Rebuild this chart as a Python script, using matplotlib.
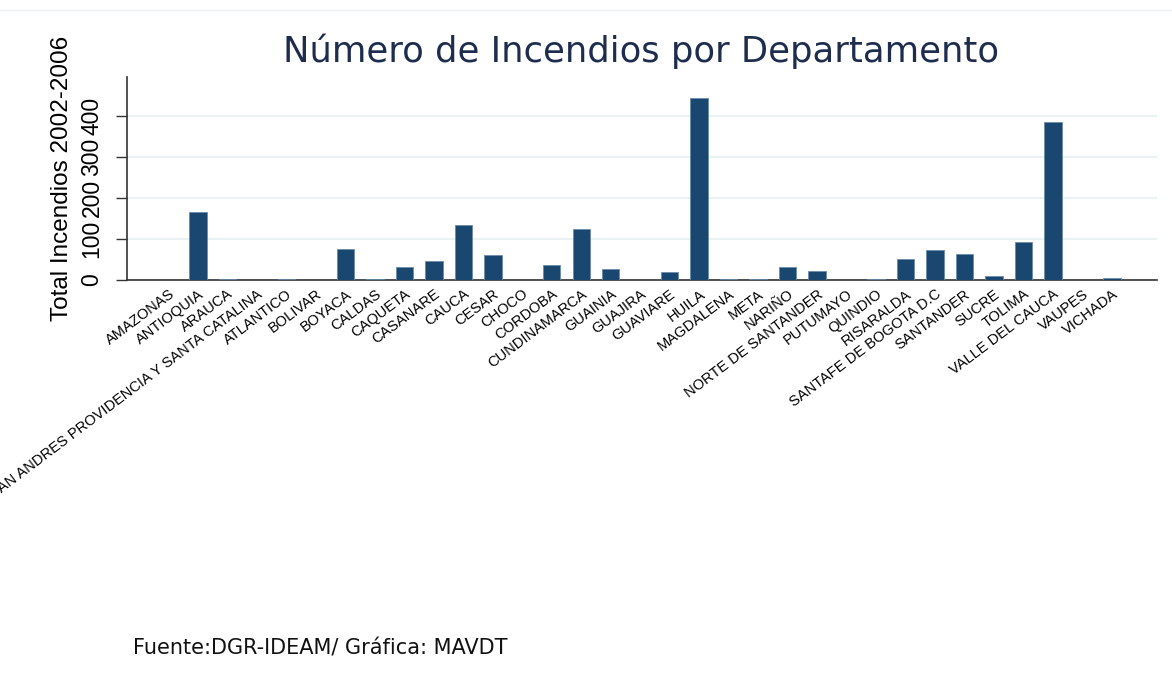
import matplotlib
matplotlib.use("Agg")
import matplotlib.pyplot as plt
import numpy as np

plt.rcParams['font.family'] = ['Liberation Sans', 'DejaVu Sans']

departamentos = ["AMAZONAS", "ANTIOQUIA", "ARAUCA", "SAN ANDRES PROVIDENCIA Y SANTA CATALINA",
                 "ATLANTICO", "BOLIVAR", "BOYACA", "CALDAS", "CAQUETA", "CASANARE", "CAUCA",
                 "CESAR", "CHOCO", "CORDOBA", "CUNDINAMARCA", "GUAINIA", "GUAJIRA", "GUAVIARE",
                 "HUILA", "MAGDALENA", "META", "NARIÑO", "NORTE DE SANTANDER", "PUTUMAYO",
                 "QUINDIO", "RISARALDA", "SANTAFE DE BOGOTA D.C", "SANTANDER", "SUCRE", "TOLIMA",
                 "VALLE DEL CAUCA", "VAUPES", "VICHADA"]
incendios = [0, 166, 3, 0, 3, 0, 76, 3, 32, 47, 135, 60, 0, 37, 124, 28, 0, 19,
             442, 3, 3, 31, 21, 0, 3, 50, 72, 63, 10, 93, 385, 0, 5]
yticks = [0, 100, 200, 300, 400]

fig = plt.figure(figsize=(11.72, 6.82), dpi=100)
ax = fig.add_axes([127/1172, 1 - 280/682, (1157 - 127)/1172, (280 - 76.7)/682])

x = np.arange(len(departamentos))
ax.bar(x, incendios, width=0.59, color='#1a476f', edgecolor='#6a8cab', linewidth=0.6, zorder=3)

ax.set_xlim(-1.41, len(departamentos) - 1 + 1.53)
ax.set_ylim(0, 495)
ax.set_yticks(yticks)
ax.set_yticklabels([str(v) for v in yticks], rotation=90, va='center', fontsize=16.5)
ax.yaxis.grid(True, color='#eaf2f3', linewidth=1.5, zorder=0)
ax.set_axisbelow(True)
ax.tick_params(axis='y', length=8, width=1, color='#333333', pad=9)
ax.tick_params(axis='x', length=0, pad=5)
ax.set_xticks(x)
ax.set_xticklabels(departamentos, rotation=37, ha='right', va='top', fontsize=10.5,
                   rotation_mode='anchor')

for s in ['top', 'right']:
    ax.spines[s].set_visible(False)
ax.spines['left'].set_color('#333333')
ax.spines['bottom'].set_color('#333333')
ax.spines['left'].set_linewidth(1.2)
ax.spines['bottom'].set_linewidth(1.2)

ax.set_ylabel("Total Incendios 2002-2006", fontsize=17.5, labelpad=5)

fig.text(641/1172, 1 - 51/682, "Número de Incendios por Departamento", ha='center', va='center',
         fontsize=25.5, color='#1e2d4e', family='DejaVu Sans')
fig.text(133/1172, 1 - 648/682, "Fuente:DGR-IDEAM/ Gráfica: MAVDT", ha='left', va='center',
         fontsize=15, color='#111111', family='DejaVu Sans')

fig.add_artist(plt.Line2D([0, 1], [1 - 10/682, 1 - 10/682], color='#eaf2f3', linewidth=1,
                          transform=fig.transFigure))

fig.savefig("out.png", dpi=100)
